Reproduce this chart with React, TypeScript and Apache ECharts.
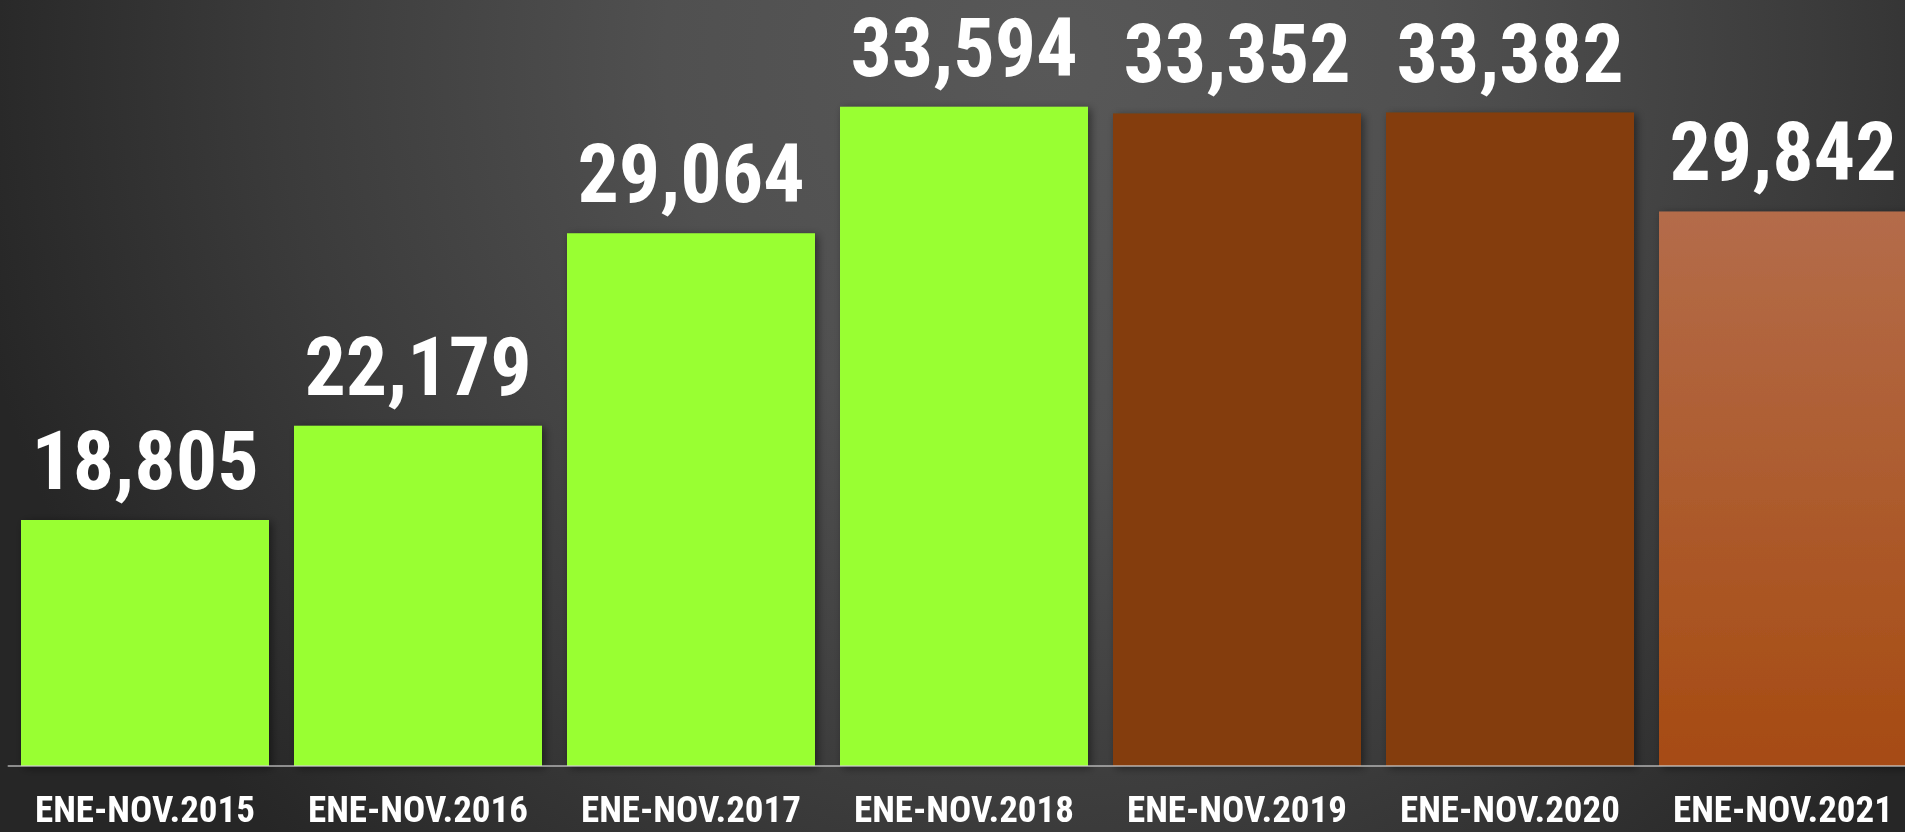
import React, { useEffect, useRef } from "react";
import * as echarts from "echarts";

const categories = [
  "ENE-NOV.2015",
  "ENE-NOV.2016",
  "ENE-NOV.2017",
  "ENE-NOV.2018",
  "ENE-NOV.2019",
  "ENE-NOV.2020",
  "ENE-NOV.2021",
];
const values = [18805, 22179, 29064, 33594, 33352, 33382, 29842];
const groups = ["green", "green", "green", "green", "brown", "brown", "light"];

const FONT = "'Liberation Sans Narrow', 'Arial Narrow', 'Roboto Condensed', 'Liberation Sans', sans-serif";

function fillFor(group: string): any {
  if (group === "green") return "#99FF33";
  if (group === "brown") return "#843C0C";
  return new echarts.graphic.LinearGradient(0, 0, 0, 1, [
    { offset: 0, color: "#B46C4A" },
    { offset: 1, color: "#A64B12" },
  ]);
}

export default function App() {
  const ref = useRef<HTMLDivElement>(null);
  useEffect(() => {
    if (!ref.current) return;
    const chart = echarts.init(ref.current, undefined, { renderer: "svg" });
    chart.setOption({
      animation: false,
      graphic: [
        {
          type: "rect",
          z: -100,
          silent: true,
          shape: { x: 0, y: 0, width: 1925, height: 832 },
          style: {
            fill: new echarts.graphic.RadialGradient(
              1050,
              60,
              1100,
              [
                { offset: 0, color: "#585858" },
                { offset: 0.35, color: "#505050" },
                { offset: 0.7, color: "#3b3b3b" },
                { offset: 1, color: "#262626" },
              ],
              true
            ),
          },
        },
      ],
      grid: { left: 8.5, right: 5.5, top: 39.4, bottom: 66, containLabel: false },
      xAxis: {
        type: "category",
        data: categories,
        z: 5,
        axisTick: { show: false },
        axisLine: { show: true, lineStyle: { color: "rgba(210,210,210,0.6)", width: 2 } },
        axisLabel: {
          color: "#ffffff",
          fontSize: 37,
          fontWeight: "bold",
          fontFamily: FONT,
          margin: 25,
          interval: 0,
        },
      },
      yAxis: {
        type: "value",
        min: 10000,
        max: 36000,
        show: false,
        splitLine: { show: false },
      },
      series: [
        {
          type: "bar",
          barWidth: 248,
          data: values.map((v, i) => ({
            value: v,
            itemStyle: {
              color: fillFor(groups[i]),
              shadowColor: "rgba(0,0,0,0.45)",
              shadowBlur: 8,
              shadowOffsetX: 3,
              shadowOffsetY: 2,
            },
          })),
          label: {
            show: true,
            position: "top",
            distance: 18,
            color: "#ffffff",
            fontSize: 82,
            fontWeight: "bold",
            fontFamily: FONT,
            formatter: (p: any) => Number(p.value).toLocaleString("en-US"),
          },
        },
      ],
    });
    return () => chart.dispose();
  }, []);
  return (
    <div
      ref={ref}
      style={{ position: "fixed", left: 0, top: 0, width: 1925, height: 832 }}
    />
  );
}
